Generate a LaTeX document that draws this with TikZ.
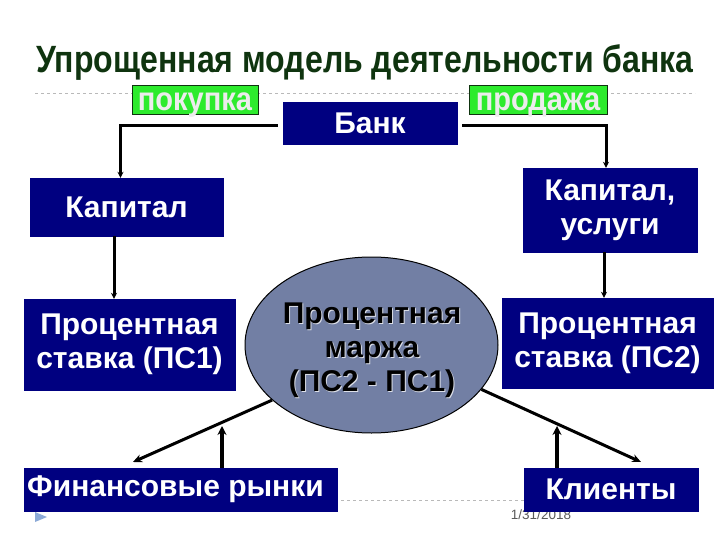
\documentclass[tikz,border=0pt]{standalone}
\usepackage{fontspec}
\setmainfont{Liberation Sans}
\usetikzlibrary{shapes.geometric,arrows.meta}
\definecolor{navy}{RGB}{0,0,128}
\definecolor{grn}{RGB}{45,235,45}
\definecolor{ttl}{RGB}{15,52,15}
\definecolor{slate}{RGB}{114,127,164}
\definecolor{tri}{RGB}{140,170,215}
\tikzset{
  bluebox/.style={draw=navy,fill=navy,text=white,font=\bfseries\fontsize{30}{34}\selectfont,align=center,inner sep=0pt},
  greenbox/.style={draw=ttl,line width=0.7pt,fill=grn,text=white!85!gray,font=\bfseries\fontsize{33}{36}\selectfont,inner sep=0pt,text height=26pt,text depth=3pt,minimum height=29pt},
  conn/.style={draw=black,line width=3pt,-{Stealth[length=6pt,width=6pt]}},
  diag/.style={draw=black,line width=3pt,-{Stealth[length=9pt,width=8pt]}},
  vert/.style={draw=black,line width=4.5pt,-{Stealth[length=9pt,width=9pt]}},
  margfont/.style={align=center,font=\bfseries\fontsize{30}{34}\selectfont,inner sep=0pt},
}
\begin{document}
\begin{tikzpicture}[x=1pt,y=-1pt]
\useasboundingbox (0,0) rectangle (720,540);
% title and rules
\node[anchor=base,text=ttl,font=\bfseries\fontsize{38}{40}\selectfont,inner sep=0pt] (title) at (365,73) {\scalebox{0.843}[1]{Упрощенная модель деятельности банка}};
\draw[gray!55,dashed,line width=0.6pt] (35,93) -- (695,93);
\draw[gray!55,dashed,line width=0.6pt] (35,500) -- (695,500);
\node[text=black!65,font=\fontsize{13.5}{14}\selectfont,inner sep=0pt] (date) at (541,515) {1/31/2018};
\fill[tri] (35,512) -- (47,517) -- (35,522) -- cycle;
% nodes
\node[greenbox,minimum width=126] (pok) at (195,99.5) {\scalebox{0.88}[1]{покупка}};
\node[greenbox,minimum width=138] (prod) at (538,99.5) {\scalebox{0.88}[1]{продажа}};
\node[bluebox,minimum width=174,minimum height=42] (bank) at (370,123) {Банк};
\node[bluebox,minimum width=193,minimum height=58] (kap) at (126.5,207) {Капитал};
\node[bluebox,minimum width=174,minimum height=84] (kapu) at (610,210) {Капитал,\\услуги};
\node[bluebox,minimum width=211,minimum height=91] (ps1) at (129.5,344.5) {Процентная\\ставка (ПС1)};
\node[bluebox,minimum width=211,minimum height=90] (ps2) at (607.5,343) {Процентная\\ставка (ПС2)};
\node[ellipse,draw=black,line width=1pt,fill=slate,minimum width=253,minimum height=176,inner sep=0pt] (marg) at (371.5,345) {};
\node[margfont,text=white!75!slate] (margglow) at (373,351.5) {Процентная\\маржа\\(ПС2 - ПС1)};
\node[margfont,text=black] (margtxt) at (372,350) {Процентная\\маржа\\(ПС2 - ПС1)};
\node[bluebox,minimum width=313,minimum height=43] (fin) at (180.5,489.5) {\hspace*{-10pt}Финансовые рынки};
\node[bluebox,minimum width=174,minimum height=43] (kli) at (611,489.5) {Клиенты};
% coordinates
\coordinate (finIn) at (133,462);
\coordinate (finUp) at (222,426);
\coordinate (kliIn) at (641,462);
\coordinate (kliUp) at (557,426);
% connectors
\draw[conn] ([xshift=-5pt,yshift=-3pt]bank.west) -| ([xshift=-6pt]kap.north);
\draw[conn] ([xshift=5pt,yshift=-3pt]bank.east) -| ([xshift=-4pt]kapu.north);
\draw[conn] ([xshift=-12.5pt]kap.south) -- ([xshift=-12.5pt]kap.south |- ps1.north);
\draw[conn] ([xshift=-6pt]kapu.south) -- ([xshift=-6pt]kapu.south |- ps2.north);
\draw[diag] (marg.-151) -- (finIn);
\draw[vert] (fin.north -| finUp) -- (finUp);
\draw[diag] (marg.-22) -- (kliIn);
\draw[vert] (kli.north -| kliUp) -- (kliUp);
\end{tikzpicture}
\end{document}
